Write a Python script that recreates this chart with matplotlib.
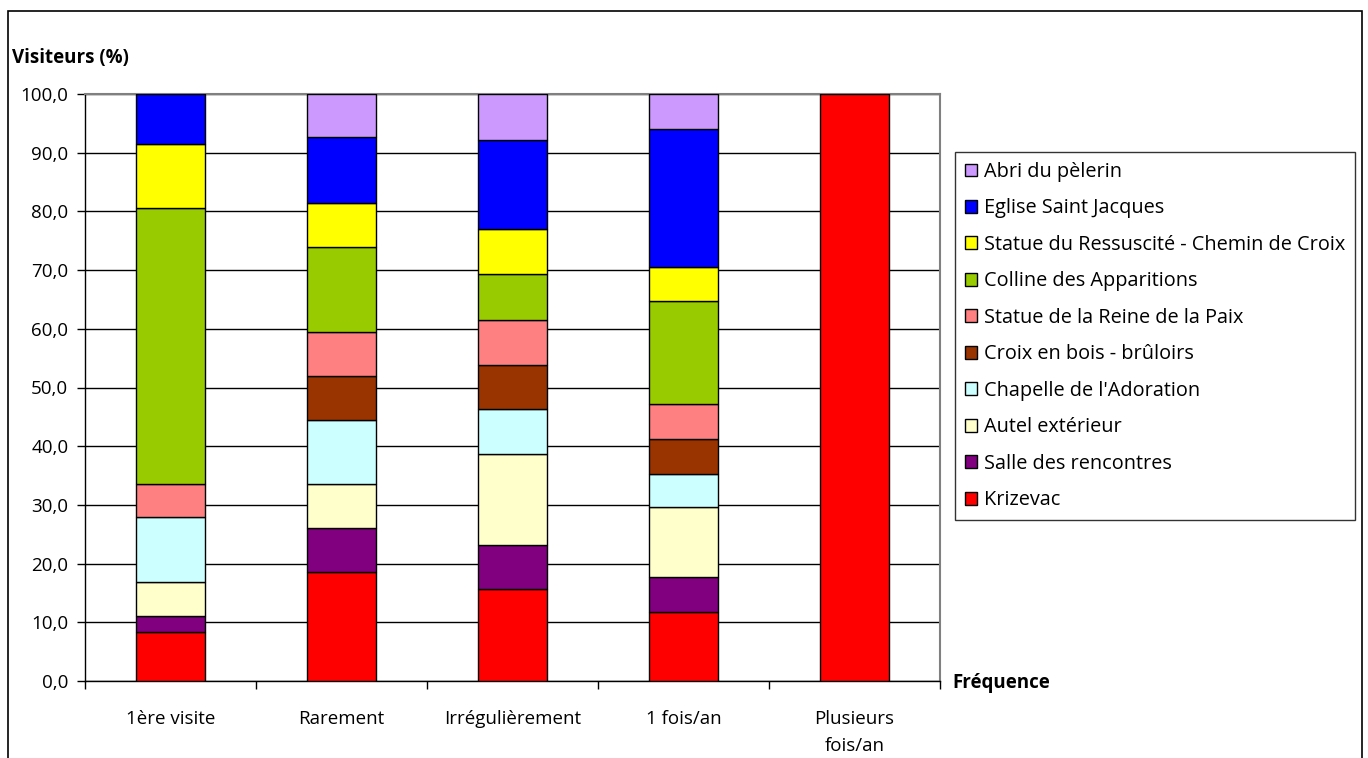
import numpy as np
import matplotlib
matplotlib.use("Agg")
import matplotlib.pyplot as plt
from matplotlib.patches import Rectangle, Patch

plt.rcParams["font.family"] = ["Open Sans", "DejaVu Sans"]

categories = ["1ère visite", "Rarement", "Irrégulièrement", "1 fois/an", "Plusieurs\nfois/an"]

# stacked from bottom to top
series_names = [
    "Krizevac",
    "Salle des rencontres",
    "Autel extérieur",
    "Chapelle de l'Adoration",
    "Croix en bois - brûloirs",
    "Statue de la Reine de la Paix",
    "Colline des Apparitions",
    "Statue du Ressuscité - Chemin de Croix",
    "Eglise Saint Jacques",
    "Abri du pèlerin",
]
krizevac = [8.4, 18.6, 15.6, 11.8, 100.0]
salle = [2.7, 7.5, 7.5, 5.9, 0.0]
autel = [5.7, 7.4, 15.5, 11.9, 0.0]
chapelle = [11.1, 11.0, 7.7, 5.7, 0.0]
croix = [0.0, 7.5, 7.5, 5.9, 0.0]
reine = [5.6, 7.4, 7.7, 6.0, 0.0]
colline = [47.1, 14.6, 7.8, 17.5, 0.0]
ressuscite = [10.9, 7.4, 7.7, 5.8, 0.0]
eglise = [8.5, 11.2, 15.2, 23.5, 0.0]
abri = [0.0, 7.4, 7.8, 6.0, 0.0]

series = [krizevac, salle, autel, chapelle, croix, reine, colline, ressuscite, eglise, abri]
colors = ["#FF0000", "#800080", "#FFFFCC", "#CCFFFF", "#993300",
          "#FF8080", "#99CC00", "#FFFF00", "#0000FF", "#CC99FF"]

fig = plt.figure(figsize=(13.68, 7.58), dpi=100)
# outer chart frame (bottom edge falls just outside the picture)
fig.patches.append(Rectangle((8 / 1368, -5 / 758), 1354 / 1368, 752 / 758,
                             transform=fig.transFigure, fill=False,
                             edgecolor="black", linewidth=1.2))

ax = fig.add_axes([85 / 1368, 1 - 681 / 758, 855 / 1368, 587 / 758])
x = np.arange(len(categories))
bottom = np.zeros(len(categories))
for vals, name, col in zip(series, series_names, colors):
    vals = np.array(vals)
    mask = vals > 0
    ax.bar(x[mask], vals[mask], width=0.4, bottom=bottom[mask], color=col,
           edgecolor="black", linewidth=1.0, zorder=3)
    bottom += vals

ax.set_xlim(-0.5, len(categories) - 0.5)
ax.set_ylim(0, 100)
ax.set_yticks(np.arange(0, 101, 10))
ax.set_yticklabels([f"{v:.1f}".replace(".", ",") for v in np.arange(0, 101, 10)],
                   fontsize=13.5)
ax.yaxis.grid(True, color="black", linewidth=1.0, zorder=0)
ax.set_xticks(x)
ax.set_xticklabels(categories, fontsize=13.5, linespacing=1.62)
ax.set_xticks(np.arange(-0.5, len(categories), 1), minor=True)
ax.tick_params(axis="x", which="major", length=0, pad=21)
ax.tick_params(axis="x", which="minor", length=6, width=1, direction="out")
ax.tick_params(axis="y", length=6, width=1, direction="out", pad=6)

for side in ["top", "right"]:
    ax.spines[side].set_color("#808080")
    ax.spines[side].set_linewidth(1.5)
for side in ["left", "bottom"]:
    ax.spines[side].set_color("black")
    ax.spines[side].set_linewidth(1.0)

fig.text(12 / 1368, 1 - 58 / 758, "Visiteurs (%)", fontsize=13.5, fontweight="bold",
         va="center", ha="left")
fig.text(952 / 1368, 1 - 683 / 758, "Fréquence", fontsize=13.5, fontweight="bold",
         va="center", ha="left")

handles = [Patch(facecolor=c, edgecolor="black", linewidth=1.0, label=n)
           for n, c in zip(series_names, colors)]
handles = handles[::-1]
leg = fig.legend(handles=handles, loc="upper left",
                 bbox_to_anchor=(955 / 1368, 1 - 152 / 758),
                 fontsize=14.3, frameon=True, fancybox=False, edgecolor="black",
                 handlelength=0.62, handleheight=0.62, handletextpad=0.35,
                 labelspacing=0.83, borderpad=0.5, borderaxespad=0)
leg.get_frame().set_linewidth(1.0)

fig.savefig("out.png", dpi=100)
